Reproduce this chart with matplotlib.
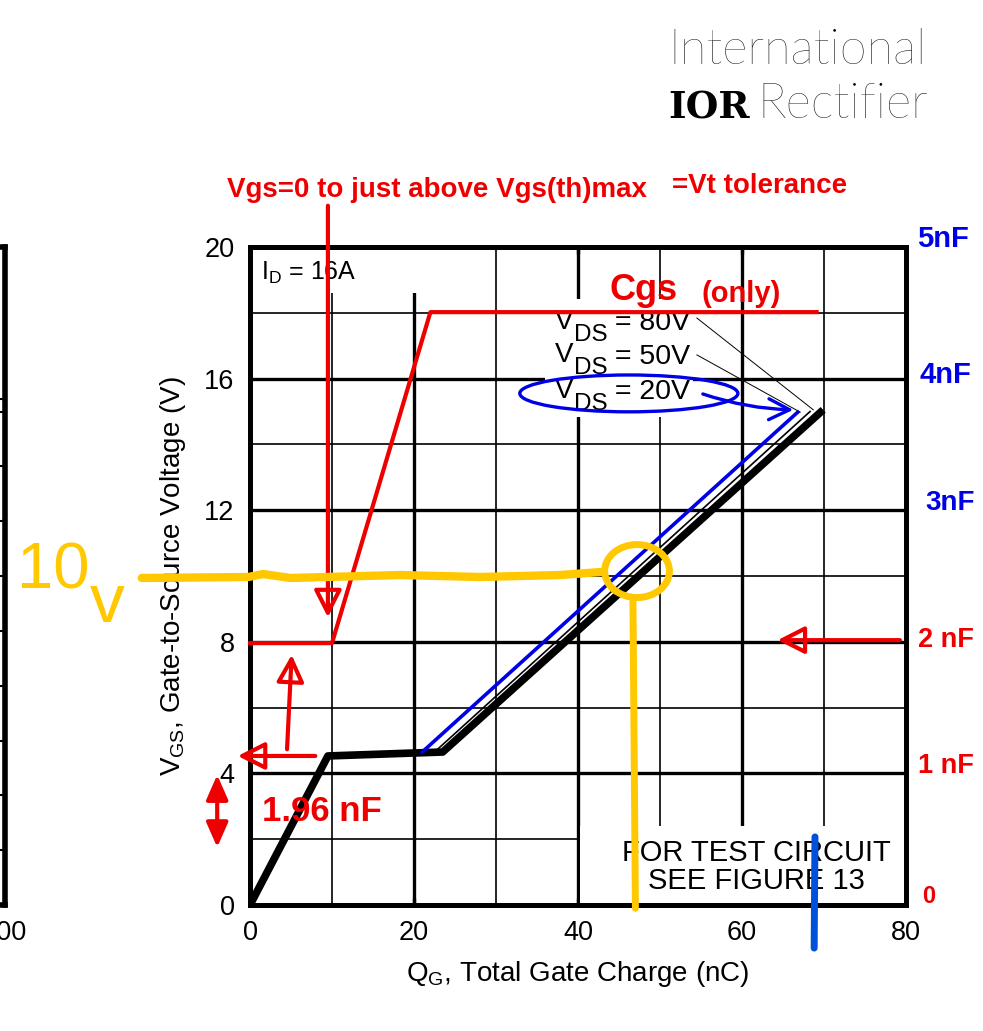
import matplotlib
matplotlib.use('Agg')
import matplotlib.pyplot as plt
from matplotlib.patches import Rectangle, Ellipse, FancyArrowPatch

plt.rcParams['font.family'] = ['Liberation Sans', 'DejaVu Sans']
plt.rcParams['mathtext.fontset'] = 'custom'
plt.rcParams['mathtext.rm'] = 'Liberation Sans'
plt.rcParams['mathtext.it'] = 'Liberation Sans:italic'
plt.rcParams['mathtext.bf'] = 'Liberation Sans:bold'

RED = '#EE0000'
BLUE = '#0000E6'
YELLOW = '#FFC800'

# gate charge curves, Q_G (nC) vs V_GS (V)
qg_80v = [0, 9.5, 23.5, 69.9]
vgs_80v = [0, 4.53, 4.65, 15.05]
qg_50v = [22.5, 68.3]
vgs_50v = [4.65, 15.0]
qg_20v = [21.0, 66.8]
vgs_20v = [4.65, 14.98]

# hand drawn Cgs-only curve
qg_cgs = [0, 10, 22, 69.1]
vgs_cgs = [7.96, 7.96, 18.02, 18.02]

# hand drawn 10 V trace
yel_q = [-13.2, -0.2, 1.6, 4.9, 18.3, 28, 37.8, 42.7]
yel_v = [9.94, 9.97, 10.06, 9.94, 10.03, 9.97, 10.03, 10.12]
yel_drop_q = [46.7, 47.0]
yel_drop_v = [9.33, -0.1]

# capacitance scale written on the right
cap_labels = ['5nF', '4nF', '3nF', '2 nF', '1 nF', '0']
cap_y = [20.0, 15.87, 12.0, 7.84, 4.01, 0.05]
cap_x = [81.3, 81.7, 82.3, 81.5, 81.5, 82.0]
cap_colors = [BLUE, BLUE, BLUE, RED, RED, RED]
cap_sizes = [21, 21, 20, 19.5, 19.5, 17]

vds_values = ['80V', '50V', '20V']
vds_y = [17.52, 16.5, 15.41]

x_major = [0, 20, 40, 60, 80]
x_minor = [10, 30, 50, 70]
y_major = [0, 4, 8, 12, 16, 20]
y_minor = [2, 6, 10, 14, 18]

fig = plt.figure(figsize=(9.83, 10.31), dpi=100)
ax = fig.add_axes([250 / 983, 126 / 1031, 656 / 983, 658 / 1031])
ax.set_xlim(0, 80)
ax.set_ylim(0, 20)
ax.set_xticks(x_major)
ax.set_xticks(x_minor, minor=True)
ax.set_yticks(y_major)
ax.set_yticks(y_minor, minor=True)
ax.set_axisbelow(True)
ax.grid(which='major', color='black', lw=2.4)
ax.grid(which='minor', color='black', lw=1.2)
for s in ax.spines.values():
    s.set_linewidth(3.6)
ax.tick_params(which='both', length=0, labelsize=19.5, pad=11)
ax.tick_params(axis='x', which='major', top=True, direction='in', length=5, width=2.4)
ax.set_ylabel('V$_{\\mathrm{GS}}$, Gate-to-Source Voltage (V)', fontsize=20, labelpad=12)
ax.set_xlabel('Q$_{\\mathrm{G}}$, Total Gate Charge (nC)', fontsize=20, labelpad=9)

# white label boxes covering the grid
ax.add_patch(Rectangle((0, 18.6), 21, 1.3, fc='white', ec='none', zorder=1))
ax.add_patch(Rectangle((36, 14.83), 18, 3.6, fc='white', ec='none', zorder=1))
ax.add_patch(Rectangle((40.3, 0), 39.7, 2.4, fc='white', ec='none', zorder=1))

ax.text(1.4, 19.0, 'I$_{\\mathrm{D}}$ = 16A', fontsize=18, zorder=2)
ax.text(61.8, 1.14, 'FOR TEST CIRCUIT\nSEE FIGURE 13', fontsize=21, ha='center',
        va='center', linespacing=1.0, zorder=2)

# curves
ax.plot(qg_80v, vgs_80v, color='black', lw=5.5, solid_capstyle='butt', zorder=3)
ax.plot(qg_50v, vgs_50v, color='black', lw=1.2, zorder=3)
ax.plot(qg_20v, vgs_20v, color=BLUE, lw=2.6, zorder=4)

for volts, yy in zip(vds_values, vds_y):
    t1 = ax.text(37.2, yy, 'V', fontsize=20, va='baseline', zorder=2)
    t2 = ax.annotate('DS', xy=(1, 0), xycoords=t1, xytext=(0, -8),
                     textcoords='offset points', fontsize=17.5, va='bottom', zorder=2)
    ax.annotate(' = ' + volts, xy=(1, 0), xycoords=t2, xytext=(0, 7),
                textcoords='offset points', fontsize=20.5, va='bottom', zorder=2)
ax.plot([54.5, 68.7], [17.84, 15.05], color='black', lw=0.7, zorder=3)
ax.plot([54.5, 67.1], [16.72, 14.98], color='black', lw=0.7, zorder=3)

# red annotations
ax.plot(qg_cgs, vgs_cgs, color=RED, lw=3, zorder=5, clip_on=False)
ax.text(43.9, 18.39, 'Cgs', color=RED, fontsize=26, fontweight='bold', zorder=6)
ax.text(55.0, 18.33, '(only)', color=RED, fontsize=21, fontweight='bold', zorder=6)
ax.text(-2.8, 21.52, 'Vgs=0 to just above Vgs(th)max', color=RED, fontsize=20,
        fontweight='bold', clip_on=False)
ax.text(51.5, 21.64, '=Vt tolerance', color=RED, fontsize=20, fontweight='bold',
        clip_on=False)
ax.text(1.5, 2.55, '1.96 nF', color=RED, fontsize=25, fontweight='bold', zorder=6)

open_head = '-|>,head_length=0.55,head_width=0.28'
arrows = [((9.5, 21.34), (9.5, 8.66), open_head, 'none'),
          ((8.3, 4.53), (-1.83, 4.53), open_head, 'none'),
          ((4.5, 4.65), (5.1, 7.69), open_head, 'none'),
          ((79.6, 8.05), (64.0, 8.05), open_head, 'none'),
          ((-4.0, 1.67), (-4.0, 4.04), '<|-|>,head_length=0.5,head_width=0.22', RED)]
for a, b, style, fc in arrows:
    ax.add_patch(FancyArrowPatch(a, b, arrowstyle=style, mutation_scale=30, lw=3,
                                 ec=RED, fc=fc, clip_on=False, zorder=6))

for lab, xx, yy, c, fs in zip(cap_labels, cap_x, cap_y, cap_colors, cap_sizes):
    ax.text(xx, yy, lab, color=c, fontsize=fs, fontweight='bold', va='baseline',
            clip_on=False)

# blue annotations
ax.add_patch(Ellipse((46.2, 15.55), 26.6, 1.12, fill=False, ec=BLUE, lw=2.4, zorder=6))
ax.add_patch(FancyArrowPatch((54.9, 15.56), (66.6, 15.05),
                             arrowstyle='->,head_length=0.5,head_width=0.25',
                             connectionstyle='arc3,rad=0.08', mutation_scale=30,
                             lw=2.4, color=BLUE, zorder=6))
ax.plot([68.9, 68.8], [2.07, -1.31], color='#0050DC', lw=5, solid_capstyle='round',
        clip_on=False, zorder=7)

# yellow annotations
ax.plot(yel_q, yel_v, color=YELLOW, lw=6, solid_capstyle='round', clip_on=False, zorder=7)
ax.add_patch(Ellipse((47.2, 10.15), 7.9, 1.61, fill=False, ec=YELLOW, lw=5, zorder=7))
ax.plot(yel_drop_q, yel_drop_v, color=YELLOW, lw=5, solid_capstyle='round',
        clip_on=False, zorder=7)
ax.text(-28.4, 10.15, '10', color=YELLOW, fontsize=47, va='center',
        family='Liberation Sans', clip_on=False)
ax.text(-19.6, 9.15, 'v', color=YELLOW, fontsize=50, va='center',
        family='Liberation Sans', clip_on=False)

# edge of the neighbouring chart on the left
lax = fig.add_axes([-0.1, 126 / 1031, 0.105, 658 / 1031])
lax.set_xlim(0, 100)
lax.set_ylim(0, 12)
lax.spines['left'].set_visible(False)
for k in ['right', 'top', 'bottom']:
    lax.spines[k].set_linewidth(4)
lax.set_yticks([1, 2, 3, 4, 5, 6, 7, 8, 9, 9.22])
lax.yaxis.tick_right()
lax.tick_params(axis='y', direction='in', length=7, width=1.5, labelright=False)
lax.set_xticks([100])
lax.set_xticklabels(['100'])
lax.tick_params(axis='x', length=0, labelsize=19.5, pad=11)
lax.set_facecolor('none')

# logo
fig.text(668 / 983, 1 - 50 / 1031, 'International', fontsize=35, family='Lato',
         fontweight='light', va='center')
fig.text(668 / 983, 1 - 108 / 1031, 'IOR', fontsize=27, family='DejaVu Serif',
         fontweight='bold', va='center')
fig.text(757 / 983, 1 - 105 / 1031, 'Rectifier', fontsize=35, family='Lato',
         fontweight='light', va='center')

fig.savefig('out.png', dpi=100)
